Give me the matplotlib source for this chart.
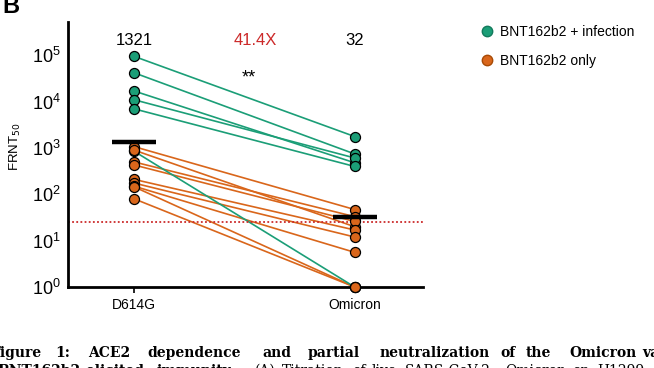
import numpy as np
import matplotlib
matplotlib.use('Agg')
import matplotlib.pyplot as plt
from matplotlib.lines import Line2D

plt.rcParams['font.family'] = ['Liberation Sans', 'DejaVu Sans']

# data (FRNT50 titres)
variants = ['D614G', 'Omicron']
infected_d614g = [95000, 42000, 17000, 11000, 7000, 850]
infected_omicron = [1770, 745, 480, 610, 400, 1]
vaccine_d614g = [1070, 900, 500, 430, 210, 175, 150, 145, 80]
vaccine_omicron = [47, 20, 33, 26, 17, 12, 5.6, 1, 1]
gmt = [1321, 32]
fold_label = '41.4X'
lod = 25

green = '#1b9e77'
orange = '#d9661b'

fig = plt.figure(figsize=(6.54, 3.68), dpi=100)
ax = fig.add_axes([68/654, 1-287/368, (423-68)/654, (287-22)/368])

x = np.arange(len(variants))
for a, b in zip(vaccine_d614g, vaccine_omicron):
    ax.plot(x, [a, b], color=orange, lw=1.2, zorder=1)
for a, b in zip(infected_d614g, infected_omicron):
    ax.plot(x, [a, b], color=green, lw=1.2, zorder=1.5)

ax.scatter(np.zeros(len(infected_d614g)), infected_d614g, s=52, c=green,
           edgecolors='black', linewidths=0.9, zorder=3, clip_on=False)
ax.scatter(np.ones(len(infected_omicron)), infected_omicron, s=52, c=green,
           edgecolors='black', linewidths=0.9, zorder=3, clip_on=False)
ax.scatter(np.zeros(len(vaccine_d614g)), vaccine_d614g, s=52, c=orange,
           edgecolors='black', linewidths=0.9, zorder=4, clip_on=False)
ax.scatter(np.ones(len(vaccine_omicron)), vaccine_omicron, s=52, c=orange,
           edgecolors='black', linewidths=0.9, zorder=4, clip_on=False)

# geometric mean bars
for xi, g in zip(x, gmt):
    ax.plot([xi-0.1, xi+0.1], [g, g], color='black', lw=3.2, zorder=5,
            solid_capstyle='butt')

ax.axhline(lod, color='#cc2a2a', lw=1.3, ls=(0, (1, 1.3)), zorder=2)

ax.set_yscale('log')
ax.set_ylim(1, 10**5.72)
ax.set_xlim(-0.3, 1.31)
ax.set_yticks([1, 10, 100, 1e3, 1e4, 1e5])
ax.minorticks_off()
ax.tick_params(axis='y', length=0, pad=5, labelsize=13)
ax.set_xticks(x)
ax.set_xticklabels(variants)
ax.tick_params(axis='x', length=4, width=1.2, pad=4, labelsize=10)
for s in ['top', 'right']:
    ax.spines[s].set_visible(False)
for s in ['left', 'bottom']:
    ax.spines[s].set_linewidth(2)

ytxt = ax.get_xaxis_transform()
ax.text(0, 0.932, str(gmt[0]), transform=ytxt, ha='center', va='center', fontsize=12)
ax.text(1, 0.932, str(gmt[1]), transform=ytxt, ha='center', va='center', fontsize=12)
ax.text(0.548, 0.932, fold_label, transform=ytxt, ha='center', va='center',
        fontsize=12, color='#cc2a2a')
ax.text(0.52, 0.79, '**', transform=ytxt, ha='center', va='center', fontsize=13)

fig.text(15/654, 1-147/368, 'FRNT$_{50}$', rotation=90, ha='center', va='center',
         fontsize=9.5)
fig.text(2/654, 1-13/368, 'B', fontsize=17, fontweight='bold', ha='left',
         va='baseline')

handles = [Line2D([], [], ls='none', marker='o', ms=7.5, mfc=green, mec='#137a5c'),
           Line2D([], [], ls='none', marker='o', ms=7.5, mfc=orange, mec='#a84a05')]
fig.legend(handles, ['BNT162b2 + infection', 'BNT162b2 only'], frameon=False,
           loc='upper left', bbox_to_anchor=(472/654, 1-18/368), fontsize=10,
           handletextpad=0.3, labelspacing=1.05, borderpad=0, handlelength=1.2)

# caption below the panel (justified, cut by the crop)
line1 = [('Figure', -10), ('1:', 55), ('ACE2', 88), ('dependence', 147), ('and', 262),
         ('partial', 308), ('neutralization', 380), ('of', 500), ('the', 526),
         ('Omicron', 569), ('variant', 642)]
for w, px in line1:
    fig.text(px/654, 1-357/368, w, family='DejaVu Serif', fontweight='bold',
             fontsize=10, va='baseline')
line2 = [('BNT162b2-elicited', -3, 'bold'), ('immunity.', 157, 'bold'),
         ('(A)', 255, 'normal'), ('Titration', 282, 'normal'), ('of', 352, 'normal'),
         ('live', 372, 'normal'), ('SARS-CoV-2', 405, 'normal'),
         ('Omicron', 505, 'normal'), ('on', 572, 'normal'), ('H1299', 597, 'normal')]
for w, px, fw in line2:
    fig.text(px/654, 1-375/368, w, family='DejaVu Serif', fontweight=fw,
             fontsize=10, va='baseline')

fig.savefig('out.png', dpi=100)
